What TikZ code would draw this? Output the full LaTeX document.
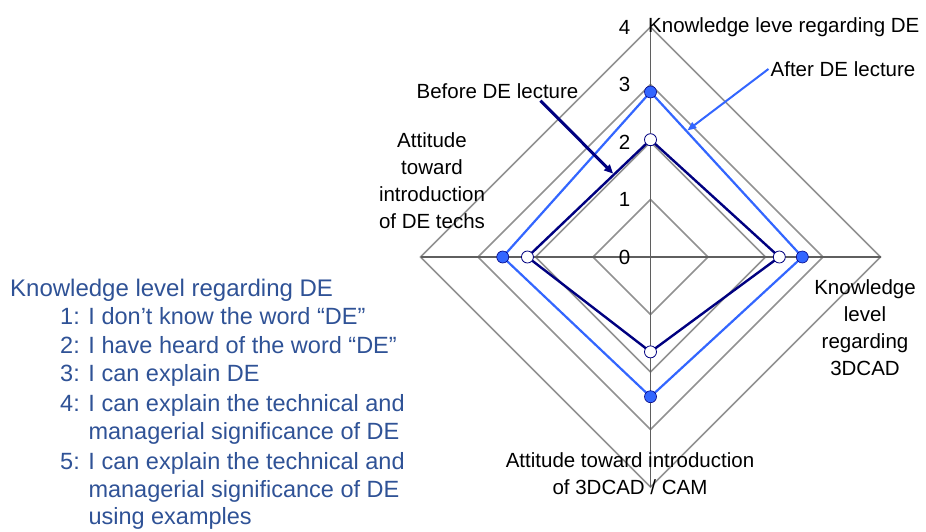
\documentclass[tikz,border=0pt]{standalone}
\usepackage{fontspec}
\setmainfont{Liberation Sans}
\usetikzlibrary{arrows.meta}

\definecolor{gridgray}{RGB}{145,145,145}
\definecolor{axisgray}{RGB}{95,95,95}
\definecolor{afterblue}{RGB}{51,102,255}
\definecolor{beforenavy}{RGB}{0,0,128}
\definecolor{legendblue}{RGB}{47,82,150}

\begin{document}
\begin{tikzpicture}[x=1pt, y=-1pt,
    ring/.style={draw=gridgray, line width=1.5pt},
    axis/.style={draw=axisgray, line width=1.2pt},
    afterline/.style={draw=afterblue, line width=2.2pt},
    beforeline/.style={draw=beforenavy, line width=2.4pt},
    afterdot/.style={circle, fill=afterblue, draw=beforenavy, line width=0.6pt, inner sep=0pt, minimum size=12pt},
    beforedot/.style={circle, fill=white, draw=beforenavy, line width=0.8pt, inner sep=0pt, minimum size=12pt},
    chartlabel/.style={font=\fontsize{20.5}{27}\selectfont, inner sep=0pt, align=center},
    legendtext/.style={font=\fontsize{23.5}{27.5}\selectfont, text=legendblue, inner sep=0pt, align=left, anchor=base west}]

    \useasboundingbox (0,0) rectangle (926,532);

    % radar grid and data
    \begin{scope}[shift={(650.5,257)}, x=57.5pt, y=57.5pt]
        \foreach \r in {1,...,4}
            \draw[ring] (0,\r) -- (\r,0) -- (0,-\r) -- (-\r,0) -- cycle;
        \draw[axis] (-4,0) -- (4,0) (0,4) -- (0,-4);

        % scale
        \foreach \v in {0,...,4}
            \node[chartlabel] (scale\v) at (-0.45,\v) {\v};

        % after DE lecture
        \draw[afterline] (0,2.87) node[afterdot] (a1) {}
            -- (2.64,0) node[afterdot] (a2) {}
            -- (0,-2.43) node[afterdot] (a3) {}
            -- (-2.57,0) node[afterdot] (a4) {} -- cycle;

        % before DE lecture
        \draw[beforeline] (0,2.04) node[beforedot] (b1) {}
            -- (2.24,0) node[beforedot] (b2) {}
            -- (0,-1.65) node[beforedot] (b3) {}
            -- (-2.14,0) node[beforedot] (b4) {} -- cycle;

        \coordinate (aftertip) at (0.64,2.2);
        \coordinate (beforetip) at (-0.65,1.45);
    \end{scope}

    % axis titles
    \node[chartlabel, anchor=west] (kde) at (648,27) {Knowledge leve regarding DE};
    \node[chartlabel] (atttech) at (432,180.5) {Attitude\\toward\\introduction\\of DE techs};
    \node[chartlabel] (kcad) at (865,328) {Knowledge\\level\\regarding\\3DCAD};
    \node[chartlabel] (attcam) at (630,473.5) {Attitude toward introduction\\of 3DCAD / CAM};

    % series labels
    \node[chartlabel, inner sep=2pt] (before) at (497.5,91) {Before DE lecture};
    \node[chartlabel, inner sep=2pt] (after) at (843,69) {After DE lecture};
    \draw[afterblue, line width=2pt, -{Triangle[length=9pt, width=7pt]}] (after.west) -- (aftertip);
    \draw[beforenavy, line width=3pt, -{Triangle[length=9pt, width=8pt]}] ([xshift=43pt]before.south) -- (beforetip);

    % legend (base anchor sits on the last line)
    \node[legendtext, font=\fontsize{24}{27.5}\selectfont] (legend) at (10,296) {Knowledge level regarding DE};
    \node[legendtext] (lvl1) at (60,324.5) {1: I don’t know the word “DE”};
    \node[legendtext] (lvl2) at (60,353) {2: I have heard of the word “DE”};
    \node[legendtext] (lvl3) at (60,381.5) {3: I can explain DE};
    \node[legendtext] (lvl4) at (60,439) {4: I can explain the technical and\\\phantom{4: }managerial significance of DE};
    \node[legendtext] (lvl5) at (60,524.5) {5: I can explain the technical and\\\phantom{5: }managerial significance of DE\\\phantom{5: }using examples};
\end{tikzpicture}
\end{document}
